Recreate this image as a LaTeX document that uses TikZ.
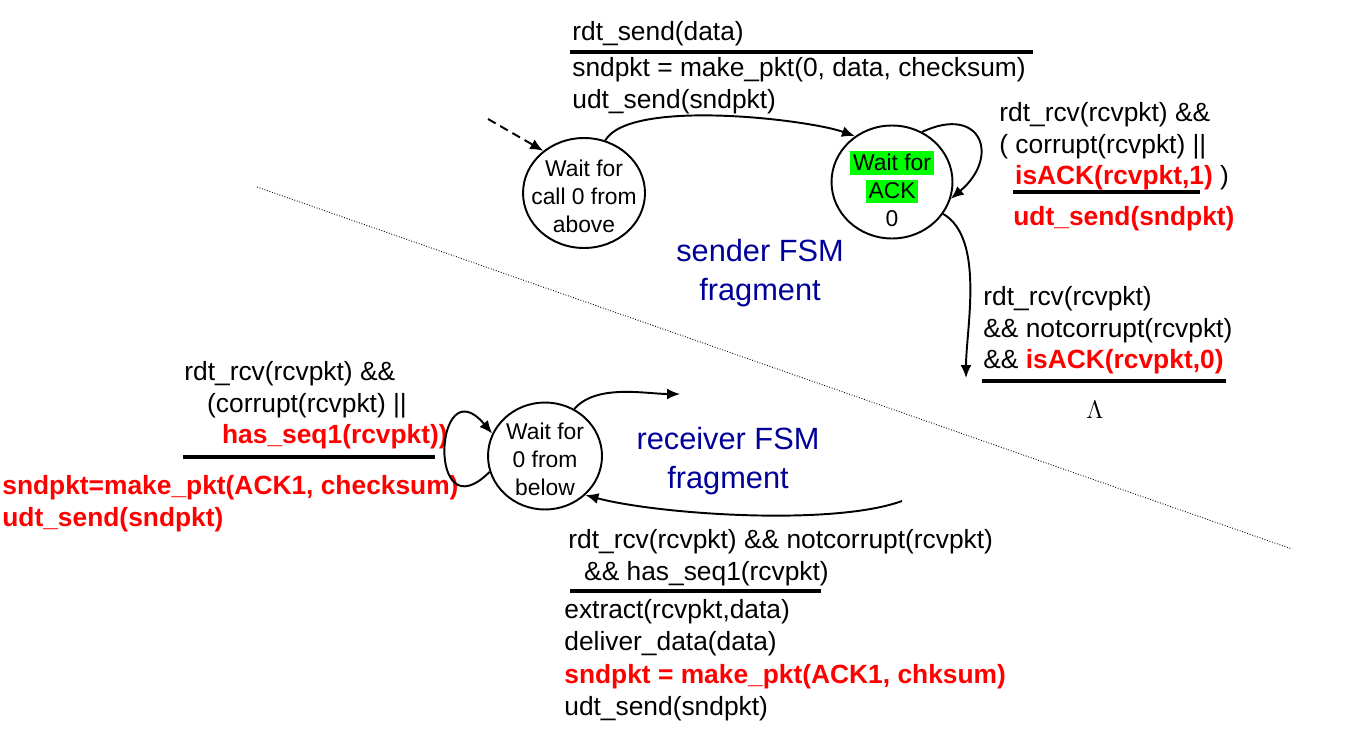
\documentclass[tikz,border=0pt]{standalone}
\usepackage{fontspec}
\setmainfont{Liberation Sans}
\usetikzlibrary{positioning, shapes.geometric, arrows.meta}
\definecolor{fsmblue}{RGB}{0,0,153}
\definecolor{hlgreen}{RGB}{0,255,0}
\newcommand{\redtxt}[1]{\textcolor{red}{\textbf{#1}}}
\newcommand{\hlbox}[1]{{\setlength{\fboxsep}{1.5pt}\colorbox{hlgreen}{\rule[-1pt]{0pt}{1pt}#1}}}

\begin{document}
\begin{tikzpicture}[
x=0.02cm, y=0.02cm,
state/.style={ellipse,
  draw,
  line width=1.1pt,
  inner sep=0pt,
},
statetext/.style={align=center,
  inner sep=0pt,
  font=\fontsize{13}{15.9}\selectfont,
},
lbl/.style={anchor=north west,
  align=left,
  inner sep=0pt,
  font=\fontsize{15}{18}\selectfont,
},
fsm/.style={align=center,
  inner sep=0pt,
  text=fsmblue,
  font=\fontsize{17.5}{22.7}\selectfont,
},
bar/.style={line width=1.8pt},
trans/.style={->, line width=1.1pt, black},
>={Latex[length=2.6mm,width=2.2mm]}
]
\useasboundingbox (0,0) rectangle (1364,-740);

% sender side
\node[state, minimum width=2.44cm, minimum height=2.2cm] (s0) at (584,-193) {};
\node[statetext] (s0txt) at (584,-196)
    {Wait for\\call 0 from\\above};
\node[state, minimum width=2.42cm, minimum height=2.26cm] (a0) at (892,-182) {};
\node[statetext] (a0txt) at (892,-189)
    {\hlbox{Wait for}\\\hlbox{ACK}\\0};
\coordinate (init) at (488,-119);
\coordinate (ackend) at (966,-378);

\node[lbl] (sendguard) at (572,-21)
    {rdt\_send(data)};
\node[lbl] (sendact) at (572,-57)
    {sndpkt = make\_pkt(0, data, checksum)\\udt\_send(sndpkt)};
\draw[bar] (570,-52) -- (1033,-52);

\node[lbl] (retxguard) at (999,-102)
    {rdt\_rcv(rcvpkt) \&\&\\( corrupt(rcvpkt) ||\\\hspace*{9pt}\redtxt{isACK(rcvpkt,1)} )};
\draw[bar] (1013,-192) -- (1200,-192);
\node[lbl] (retxact) at (1013,-206)
    {\redtxt{udt\_send(sndpkt)}};

\node[lbl] (ackguard) at (983,-286)
    {rdt\_rcv(rcvpkt)\\\&\& notcorrupt(rcvpkt)\\\&\& \redtxt{isACK(rcvpkt,0)}};
\draw[bar] (982,-381) -- (1226,-381);
\node[font=\fontsize{15}{18}\selectfont, inner sep=0pt] (ackact) at (1095,-410)
    {$\Lambda$};

\node[fsm] (sendfsm) at (760,-273)
    {sender FSM\\fragment};

\draw[trans, dash pattern=on 5pt off 3pt] (init) -- (s0.134);
\draw[trans] (s0.68) to[out=60,in=160,looseness=0.5] (a0.129);
\draw[trans] (a0.59) to[out=25,in=40,looseness=2.3] (a0.-16);
\draw[trans] (a0.-32) to[out=-30,in=90,looseness=0.75] (ackend);

% receiver side
\node[state, minimum width=2.28cm, minimum height=2.14cm] (r0) at (545,-456) {};
\node[statetext] (r0txt) at (545,-459)
    {Wait for\\0 from\\below};
\coordinate (rcvend) at (680,-394);
\coordinate (rcvstart) at (902,-501);

\node[lbl] (dupguard) at (184,-361)
    {rdt\_rcv(rcvpkt) \&\&\\\hspace*{13pt}(corrupt(rcvpkt) ||\\\hspace*{21.5pt}\redtxt{has\_seq1(rcvpkt))}};
\draw[bar] (183,-457) -- (435,-457);
\node[lbl] (dupact) at (2,-475)
    {\redtxt{sndpkt=make\_pkt(ACK1, checksum)}\\\redtxt{udt\_send(sndpkt)}};

\node[lbl] (dataguard) at (568,-529)
    {rdt\_rcv(rcvpkt) \&\& notcorrupt(rcvpkt)\\\hspace*{9pt}\&\& has\_seq1(rcvpkt)};
\draw[bar] (570,-591) -- (821,-591);
\node[lbl, font=\fontsize{15}{18.5}\selectfont] (dataact) at (564,-599)
    {extract(rcvpkt,data)\\deliver\_data(data)\\\redtxt{sndpkt = make\_pkt(ACK1, chksum)}\\udt\_send(sndpkt)};

\node[fsm] (rcvfsm) at (728,-461)
    {receiver FSM\\fragment};

\draw[trans] (r0.196) to[out=225,in=130,looseness=6] (r0.157);
\draw[trans] (r0.58) to[out=50,in=180,looseness=0.8] (rcvend);
\draw[trans] (rcvstart) to[out=200,in=-15,looseness=0.6] (r0.-44);

% divider
\coordinate (divl) at (257,-187);
\coordinate (divr) at (1292,-549);
\draw[densely dotted, line width=0.5pt] (divl) -- (divr);
\end{tikzpicture}
\end{document}
